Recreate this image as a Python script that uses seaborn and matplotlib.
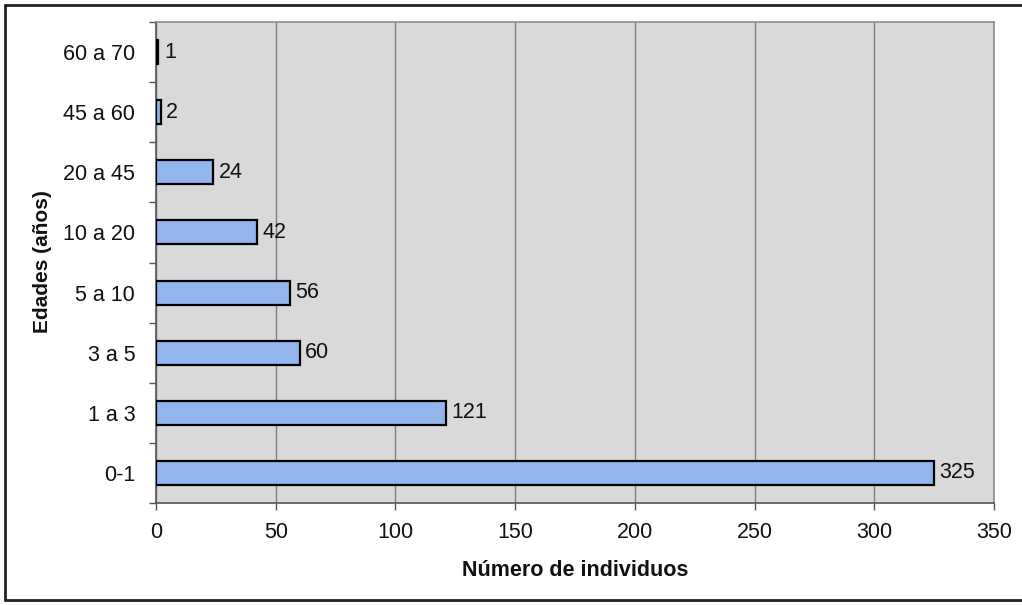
import matplotlib
matplotlib.use("Agg")
import matplotlib.pyplot as plt
from matplotlib.lines import Line2D
from matplotlib.ticker import FixedLocator
import seaborn as sns
import pandas as pd

# Age groups (top to bottom) and number of individuals in each
edades = ["60 a 70", "45 a 60", "20 a 45", "10 a 20", "5 a 10", "3 a 5", "1 a 3", "0-1"]
individuos = [1, 2, 24, 42, 56, 60, 121, 325]
xticks = [0, 50, 100, 150, 200, 250, 300, 350]

df = pd.DataFrame({"Edades": edades, "Individuos": individuos})

sns.set_theme(style="white")
plt.rcParams["font.family"] = ["Liberation Sans", "DejaVu Sans"]

W, H = 1022, 605
fig = plt.figure(figsize=(W / 100, H / 100), dpi=100)
ax = fig.add_axes([156 / W, 102 / H, 838 / W, 481 / H])
ax.set_facecolor("#d9d9d9")

sns.barplot(data=df, x="Individuos", y="Edades", order=edades, orient="h",
            color="#93b5ee", saturation=1, width=0.4,
            edgecolor="black", linewidth=1.6, ax=ax, zorder=3)

ax.set_xlim(0, 350)
ax.set_ylim(len(edades) - 0.5, -0.5)
ax.set_xticks(xticks)
ax.set_xticklabels([str(t) for t in xticks])

# vertical gridlines
ax.grid(axis="x", color="#7f7f7f", linewidth=1.0, zorder=1)
ax.set_axisbelow(True)

# value labels at the end of each bar
for cont in ax.containers:
    ax.bar_label(cont, labels=[str(v) for v in individuos], padding=4,
                 fontsize=15.5, color="#111111", zorder=4)

# category axis: ticks between groups
ax.yaxis.set_minor_locator(FixedLocator([i + 0.5 for i in range(-1, len(edades))]))
ax.tick_params(axis="y", which="major", length=0, pad=15, labelsize=15.5, labelcolor="#111111")
ax.tick_params(axis="y", which="minor", length=5, width=1, color="#555555", direction="out", left=True)
ax.tick_params(axis="x", which="major", length=5, width=1, color="#555555", direction="out",
               bottom=True, pad=9, labelsize=15.5, labelcolor="#111111")

for side in ["top", "right"]:
    ax.spines[side].set_color("#8c8c8c")
    ax.spines[side].set_linewidth(1.2)
for side in ["left", "bottom"]:
    ax.spines[side].set_color("#555555")
    ax.spines[side].set_linewidth(1.2)

ax.set_xlabel("Número de individuos", fontsize=15.5, fontweight="bold", color="#111111")
ax.set_ylabel("Edades (años)", fontsize=15, fontweight="bold", color="#111111")
ax.yaxis.set_label_coords(43 / W, 1 - 262 / H, transform=fig.transFigure)
ax.xaxis.set_label_coords(575 / W, 1 - 570 / H, transform=fig.transFigure)
ax.xaxis.label.set_va("center")
ax.yaxis.label.set_va("center")

# outer chart border (left, top, bottom)
for (x0, y0, x1, y1) in [(5, 5, 5, 600), (5, 5, 1022, 5), (5, 600, 1022, 600)]:
    fig.add_artist(Line2D([x0 / W, x1 / W], [1 - y0 / H, 1 - y1 / H],
                          transform=fig.transFigure, color="#222222", linewidth=2))

fig.savefig("out.png", dpi=100, facecolor="white")
